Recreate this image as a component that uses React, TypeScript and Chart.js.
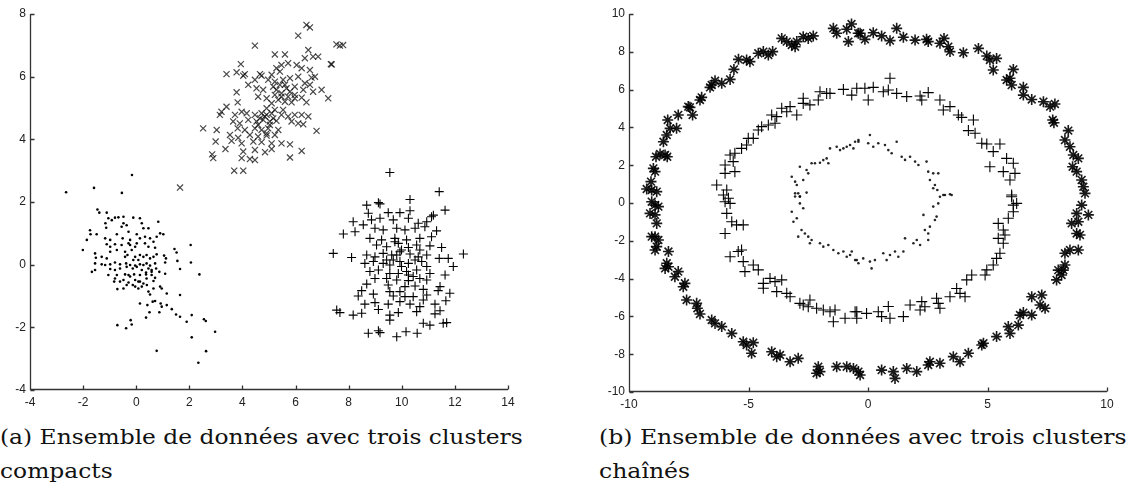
import React, { useEffect, useLayoutEffect, useRef, useState } from "react";
import { Chart, registerables } from "chart.js";
Chart.register(...registerables);

// ---------- tick labels ----------
const leftXTicks = [-4, -2, 0, 2, 4, 6, 8, 10, 12, 14];
const leftYTicks = [-4, -2, 0, 2, 4, 6, 8];
const rightXTicks = [-10, -5, 0, 5, 10];
const rightYTicks = [-10, -8, -6, -4, -2, 0, 2, 4, 6, 8, 10];

// ---------- (a) compact clusters ----------
const compactDots: [number, number][] = [
  [-2.64, 2.31], [-1.59, 2.45], [-0.54, 2.29], [-0.16, 2.86],
  [-1.46, 1.76], [-1.39, 1.66], [-1.11, 1.66], [-1.05, 1.48], [-0.92, 1.42], [-0.8, 1.5], [-0.67, 1.51], [-0.48, 1.53],
  [-1.16, 1.32], [-1.13, 1.18], [-0.48, 1.32], [-0.55, 1.21], [-0.11, 1.5], [0.14, 1.48], [0.21, 1.32], [0.27, 1.16], [0.46, 1.16], [0.83, 1.37],
  [-1.74, 1.1], [-1.72, 0.97], [-1.49, 0.97], [-1.86, 0.79], [-2.01, 0.47],
  [-1.17, 0.84], [-0.98, 0.79], [-0.73, 0.97], [-0.51, 0.84], [-0.29, 1.05], [-0.23, 0.79],
  [0.02, 0.97], [0.14, 0.84], [0.33, 0.89], [0.52, 0.84], [0.77, 0.89], [0.9, 1.0], [1.02, 0.97],
  [-1.11, 0.65], [-0.98, 0.57], [-0.8, 0.65], [-0.55, 0.63], [-0.23, 0.63], [0.02, 0.68],
  [0.33, 0.68], [0.46, 0.57], [0.65, 0.73], [0.71, 0.54],
  [-0.98, 0.41], [-0.73, 0.47], [-0.42, 0.41], [-0.17, 0.47],
  [-1.55, 0.36], [-1.52, 0.22], [-1.3, 0.25], [-1.11, 0.2],
  [-0.42, 0.25], [-0.33, 0.31], [-0.04, 0.25], [0.14, 0.31], [0.27, 0.25], [0.39, 0.31], [0.52, 0.2], [0.65, 0.25],
  [0.77, 0.33], [1.05, 0.29], [1.12, 0.2], [1.44, 0.5], [1.52, 0.39], [2.05, 0.63],
  [-1.55, 0.04], [-1.3, 0.01], [-1.17, -0.01], [-0.98, 0.01], [-0.8, 0.07], [-0.61, 0.01],
  [-0.38, 0.04], [-0.23, -0.01], [-0.04, -0.03], [0.14, 0.01], [0.39, 0.04], [0.52, -0.03], [0.71, 0.04],
  [1.09, 0.07], [1.55, 0.12], [2.06, 0.07],
  [-1.67, -0.23], [-1.55, -0.17], [-0.98, -0.14], [-0.8, -0.17], [-0.61, -0.12], [-0.36, -0.07], [-0.13, -0.12], [0.02, -0.07],
  [0.21, -0.17], [0.37, -0.25], [0.58, -0.17], [0.75, -0.12], [0.87, -0.23], [1.65, -0.14], [2.38, -0.31],
  [-1.05, -0.33], [-0.73, -0.33], [-0.42, -0.31], [-0.23, -0.38], [0.14, -0.33], [0.37, -0.31], [0.58, -0.33], [0.71, -0.42], [1.09, -0.29],
  [-0.83, -0.54], [-0.48, -0.49], [-0.29, -0.57], [-0.04, -0.49], [0.08, -0.54], [0.27, -0.6], [0.4, -0.65], [0.65, -0.52],
  [-0.71, -0.78], [-0.48, -0.76], [-0.04, -0.7], [0.08, -0.76], [0.21, -0.7], [0.65, -0.76], [0.9, -0.7], [0.96, -0.76],
  [0.46, -0.86], [0.52, -0.95], [1.15, -0.92], [1.65, -0.97],
  [0.14, -1.24], [0.42, -1.29], [0.62, -1.18], [0.71, -1.16], [0.92, -1.24], [0.96, -1.34],
  [1.15, -1.29], [1.34, -1.42], [1.5, -1.59], [1.65, -1.66], [1.9, -1.82], [2.09, -1.61],
  [0.5, -1.52], [0.37, -1.69], [0.87, -1.52],
  [-0.71, -1.93], [-0.38, -2.03], [-0.21, -1.77], [-0.17, -1.91],
  [2.55, -1.74], [2.62, -1.8], [2.97, -2.14], [2.09, -2.32], [0.77, -2.75], [2.63, -2.76], [2.34, -3.13],
  [-0.36, 1.26], [-0.29, 0.68], [-0.04, 0.57], [-0.11, 0.15], [0.08, 0.15], [0.27, -0.01], [0.46, -0.12], [0.58, -0.23],
  [0.39, -0.44], [0.14, -0.54], [-0.13, -0.65], [-0.36, -0.65], [-0.61, -0.54], [-0.8, -0.44], [-0.29, -0.33], [-0.08, -0.31],
];

const compactCrosses: [number, number][] = [
  [6.41, 7.65], [6.54, 7.57], [6.1, 7.31], [4.47, 6.99], [7.54, 7.03], [7.67, 6.99], [7.79, 7.01],
  [5.22, 6.71], [5.6, 6.71], [6.48, 6.85], [6.66, 6.64], [6.85, 6.64], [6.35, 6.59], [3.94, 6.4], [7.33, 6.4],
  [3.4, 6.08], [3.78, 6.14], [4.03, 6.03], [4.09, 6.08], [4.66, 6.08], [4.72, 6.03],
  [5.28, 6.27], [5.47, 6.37], [5.72, 6.43], [6.04, 6.37], [6.23, 6.27], [6.54, 6.21], [6.73, 6.0], [6.6, 5.97],
  [4.22, 5.74], [4.47, 5.9], [5.1, 6.06], [5.41, 6.16],
  [4.97, 5.9], [5.22, 5.84], [5.53, 5.9], [5.79, 5.95], [6.1, 6.0], [6.35, 5.79],
  [4.53, 5.63], [4.78, 5.58], [5.16, 5.68], [5.41, 5.74], [5.66, 5.63], [5.97, 5.68], [6.29, 5.58], [6.54, 5.74], [6.66, 5.52],
  [6.98, 5.58], [7.23, 5.31], [3.78, 5.5], [3.82, 5.18],
  [4.59, 5.36], [4.91, 5.31], [5.22, 5.42], [5.47, 5.47], [5.72, 5.36], [5.97, 5.42], [6.23, 5.33],
  [6.41, 5.18], [5.1, 5.15], [5.6, 5.2], [5.85, 5.18],
  [3.4, 5.04], [3.21, 4.88], [3.15, 4.78], [4.91, 4.99], [5.22, 4.94], [5.53, 4.94],
  [3.72, 4.78], [3.97, 4.88], [4.16, 4.83], [4.47, 4.78], [4.72, 4.83], [4.91, 4.78], [5.1, 4.83],
  [5.47, 4.78], [5.72, 4.73], [5.97, 4.78], [6.23, 4.78], [6.48, 4.73],
  [3.65, 4.57], [3.9, 4.51], [4.22, 4.62], [4.53, 4.57], [4.78, 4.62], [5.03, 4.57], [5.28, 4.59],
  [5.85, 4.57], [6.1, 4.51], [6.29, 4.48],
  [2.52, 4.35], [3.03, 4.3], [3.82, 4.35], [4.09, 4.3], [4.47, 4.35], [4.72, 4.3], [4.97, 4.35], [5.35, 4.3], [6.79, 4.27],
  [3.53, 4.14], [3.84, 4.05], [4.28, 4.14], [4.59, 4.09], [4.91, 4.12], [5.22, 4.14],
  [2.99, 3.93], [3.59, 3.95], [3.97, 3.87], [4.41, 3.93], [4.72, 3.91], [5.1, 3.87], [5.47, 3.87], [5.79, 3.84],
  [3.36, 3.69], [4.03, 3.61], [4.47, 3.66], [4.85, 3.59], [5.1, 3.69], [6.23, 3.63],
  [2.86, 3.52], [2.9, 3.4], [3.97, 3.4], [4.28, 3.37], [4.47, 3.34], [5.79, 3.42],
  [3.69, 3.0], [4.03, 3.0], [7.36, 6.39], [1.65, 2.46],
  [4.66, 4.67], [4.84, 4.73], [5.03, 4.46], [5.16, 4.67], [4.91, 4.19], [4.59, 4.46],
  [5.28, 5.58], [5.47, 5.36], [5.6, 5.74], [5.79, 5.52], [5.35, 5.26], [5.97, 5.31],
];

const compactPlus: [number, number][] = [
  [9.55, 2.94], [11.41, 2.33], [10.31, 2.08],
  [8.68, 1.9], [9.12, 1.98], [9.18, 1.94], [11.63, 1.74], [11.12, 1.53], [11.19, 1.58],
  [8.74, 1.64], [9.49, 1.66], [9.93, 1.66], [10.31, 1.72],
  [8.17, 1.37], [8.55, 1.27], [8.86, 1.43], [9.18, 1.48], [9.68, 1.43], [10.25, 1.48], [10.62, 1.32], [10.94, 1.37],
  [7.8, 0.98], [8.24, 1.05], [8.99, 1.16], [9.3, 1.11], [9.81, 1.16], [10.12, 1.11], [10.5, 1.16], [10.87, 1.21], [11.31, 1.08],
  [8.8, 0.84], [9.24, 0.79], [9.74, 0.84], [10.18, 0.79], [10.68, 0.84], [11.12, 0.89],
  [9.05, 0.63], [9.43, 0.57], [9.87, 0.68], [10.25, 0.55], [10.56, 0.63], [11.06, 0.6], [11.5, 0.55],
  [7.42, 0.36], [8.11, 0.23], [8.68, 0.31], [8.99, 0.25], [9.3, 0.36], [9.62, 0.31], [9.93, 0.41], [10.31, 0.34], [10.62, 0.25], [10.94, 0.31], [11.41, 0.2],
  [11.75, 0.2], [12.32, 0.34],
  [8.61, 0.04], [8.93, 0.1], [9.3, 0.04], [9.55, -0.01], [9.93, 0.1], [10.25, 0.04], [10.5, 0.15], [10.75, 0.1],
  [11.94, -0.06], [11.63, -0.33],
  [8.8, -0.22], [9.12, -0.17], [9.55, -0.28], [9.87, -0.28], [10.18, -0.22], [10.56, -0.17], [11.06, -0.28],
  [8.99, -0.44], [9.43, -0.44], [9.81, -0.49], [10.25, -0.51], [10.68, -0.44], [10.94, -0.49],
  [8.68, -0.62], [10.12, -0.7], [10.5, -0.68], [11.44, -0.7],
  [8.49, -0.83], [9.55, -0.86], [10.81, -0.79], [11.37, -0.83],
  [8.36, -1.0], [8.93, -0.94], [9.68, -1.0], [10.12, -1.02], [10.94, -0.97], [11.81, -0.91],
  [8.61, -1.26], [8.99, -1.21], [9.49, -1.26], [9.93, -1.18], [10.31, -1.26], [10.68, -1.34], [11.25, -1.26], [11.66, -1.15],
  [7.55, -1.45], [7.67, -1.53], [8.17, -1.61], [8.49, -1.55], [9.12, -1.43],
  [9.55, -1.61], [9.87, -1.53], [10.56, -1.5], [11.25, -1.57], [11.44, -1.47],
  [9.55, -1.77], [10.81, -1.87], [11.06, -1.93], [11.56, -1.87], [11.69, -1.85],
  [8.74, -2.19], [9.12, -2.11], [9.18, -2.17], [9.81, -2.3], [10.16, -2.14], [10.58, -2.19],
  [9.68, 0.15], [9.99, -0.06], [9.81, 0.31], [9.43, 0.15], [10.25, -0.33], [10.43, -0.38], [9.74, 0.73],
  [9.99, 0.47], [10.68, 0.47], [10.94, -0.06], [9.49, -0.65], [9.93, -0.86], [10.43, -1.02], [10.81, -1.13],
];

// ---------- (b) chained clusters ----------
const ringStars: [number, number][] = [
  [-9.26, 0.74], [-9.08, 1.13], [-8.98, 1.83], [-8.91, 1.66], [-8.87, 2.45], [-8.7, 2.59], [-8.49, 2.54], [-8.4, 2.45],
  [-8.56, 3.24], [-8.42, 3.6], [-8.28, 3.95], [-8.01, 3.95], [-8.38, 4.39],
  [-7.94, 4.66], [-7.52, 5.1], [-7.45, 5.06], [-7.34, 4.66], [-7.03, 5.45], [-6.96, 5.59],
  [-6.61, 6.12], [-6.54, 6.24], [-6.4, 6.47], [-6.12, 6.33], [-5.77, 6.54], [-5.61, 7.07], [-5.42, 7.6], [-5.08, 7.57], [-4.94, 7.48],
  [-4.59, 7.92], [-4.38, 8.01], [-4.17, 7.83], [-3.99, 8.01],
  [-3.61, 8.71], [-3.4, 8.54], [-3.19, 8.36], [-3.05, 8.27], [-2.98, 8.54],
  [-2.71, 8.8], [-2.5, 8.71], [-2.29, 8.84],
  [-1.45, 9.24], [-1.31, 8.98], [-0.89, 9.19], [-0.69, 9.47], [-0.82, 8.54], [-0.41, 8.98],
  [-0.33, 8.98], [-0.13, 8.66], [0.22, 9.01], [0.57, 8.84], [0.92, 8.59], [1.2, 9.24], [1.48, 8.77], [1.97, 8.62],
  [2.45, 8.66], [2.52, 8.54], [3.01, 8.45], [3.18, 8.71], [3.36, 8.27], [3.43, 8.01], [3.99, 7.95], [4.62, 8.18],
  [4.97, 7.78], [5.1, 7.57], [5.24, 7.04], [5.38, 7.65], [5.8, 6.51], [5.94, 6.6], [6.08, 7.07], [6.01, 6.24],
  [6.5, 6.12], [6.5, 5.71], [6.85, 5.48], [7.34, 5.36], [7.62, 5.1], [7.82, 5.24], [7.73, 4.39], [7.78, 4.25],
  [8.38, 3.83], [8.24, 3.33], [8.45, 2.98], [8.59, 2.54], [8.8, 2.36], [8.56, 1.92], [8.73, 1.66], [8.94, 1.22],
  [9.01, 0.86], [9.08, 0.51],
  [-9.05, 0.69], [-8.84, 0.6], [-9.05, 0.07], [-8.91, -0.11], [-8.77, -0.19], [-9.12, -0.55], [-8.91, -0.63], [-8.84, -1.08],
  [-9.05, -1.78], [-8.91, -1.78], [-8.77, -1.96], [-8.84, -2.31], [-8.91, -2.49], [-8.35, -2.57], [-8.42, -3.19], [-8.35, -3.37],
  [-8.49, -3.46], [-7.94, -3.63], [-8.08, -3.9], [-7.66, -4.25], [-7.73, -4.43], [-7.59, -5.13], [-7.17, -5.31], [-7.14, -5.57],
  [-7.03, -5.87], [-6.54, -6.19], [-6.4, -6.37], [-6.12, -6.54], [-5.7, -6.9], [-5.22, -7.34], [-5.08, -7.51], [-4.8, -7.39],
  [-4.87, -7.95], [-4.03, -7.87], [-3.82, -8.13], [-3.68, -8.04], [-3.26, -8.4], [-2.92, -8.22], [-2.08, -8.66], [-2.01, -8.92],
  [-2.15, -9.01], [-1.31, -8.66], [-0.89, -8.66], [-0.61, -8.75], [-0.4, -8.92],
  [-0.33, -9.1], [0.57, -8.84], [1.06, -8.92], [1.13, -9.28], [1.62, -8.75], [2.04, -8.92], [2.52, -8.57], [2.59, -8.4],
  [3.01, -8.48], [3.57, -8.13], [3.85, -8.4], [4.2, -7.95], [4.76, -7.51], [4.83, -7.42], [5.38, -7.07], [5.94, -6.9],
  [5.87, -6.54], [6.29, -6.46], [6.36, -5.93], [6.5, -5.8], [6.85, -5.93], [6.85, -4.96], [7.27, -4.87], [7.2, -5.4],
  [7.41, -5.57], [7.89, -4.07], [7.96, -3.55], [8.1, -3.81], [8.17, -3.55], [8.24, -3.28], [8.24, -2.66], [8.45, -2.49],
  [8.8, -2.49], [8.87, -1.69], [8.73, -1.61], [8.52, -1.08], [8.8, -0.99], [9.22, -0.63], [8.73, -0.55], [8.94, -0.11],
];

const ringPlus: [number, number][] = [
  [-6.33, 0.95], [-5.98, 1.57], [-5.91, 0.69], [-5.84, 0.25], [-5.98, 2.01], [-5.57, 1.66], [-5.64, 2.19], [-5.77, 2.54], [-5.57, 2.63],
  [-5.29, 2.89], [-5.08, 3.07], [-5.01, 3.42], [-4.8, 3.42], [-4.59, 3.86], [-4.45, 4.04], [-4.17, 4.13], [-4.03, 4.66],
  [-3.82, 4.57], [-3.89, 4.22], [-3.61, 5.01], [-3.4, 4.83], [-3.26, 5.1], [-2.98, 4.66],
  [-2.71, 5.54], [-2.71, 5.27], [-2.43, 5.19], [-2.08, 5.45], [-2.01, 5.89], [-1.73, 5.8], [-1.59, 5.8],
  [-1.03, 6.01], [-0.68, 5.71], [-0.47, 6.07],
  [-0.13, 6.07], [0.01, 5.45], [0.22, 6.12], [0.64, 5.89], [0.92, 6.6], [0.85, 5.98], [1.2, 5.8], [1.62, 5.63],
  [2.18, 5.66], [2.25, 5.45], [2.52, 5.84], [3.01, 5.45], [3.15, 4.92], [3.43, 5.1], [3.78, 4.66], [3.92, 4.53],
  [4.41, 4.39], [4.2, 3.83], [4.48, 3.69], [4.76, 3.16], [4.97, 3.12], [5.24, 2.72], [5.52, 3.12], [5.1, 1.92],
  [5.8, 2.36], [6.08, 2.1], [5.66, 1.66], [5.94, 1.22], [6.15, 1.57], [6.01, 0.33],
  [-6.05, 0.42], [-5.98, 0.07], [-5.77, -0.02], [-5.91, -0.55], [-5.7, -0.99], [-5.5, -1.16], [-5.22, -1.16], [-5.98, -1.61],
  [-5.77, -2.84], [-5.43, -2.57], [-5.29, -2.49], [-5.22, -3.1], [-5.15, -3.63], [-4.8, -3.28], [-4.59, -3.54],
  [-4.38, -4.25], [-4.38, -4.51], [-4.1, -3.99], [-3.89, -4.16], [-3.61, -4.07], [-3.82, -4.69], [-3.4, -4.78], [-3.26, -4.96],
  [-2.85, -5.31], [-2.71, -5.4], [-2.43, -5.13], [-2.5, -5.49], [-2.15, -5.57], [-1.87, -5.66], [-1.59, -5.75], [-1.45, -6.28],
  [-1.38, -5.66], [-0.96, -6.1], [-0.47, -5.75], [-0.47, -6.1],
  [-0.54, -5.75], [-0.06, -5.84], [0.43, -5.75], [0.57, -6.01], [0.85, -5.48], [0.92, -6.1], [1.48, -6.01], [1.76, -5.4],
  [2.18, -5.66], [2.25, -5.22], [2.38, -5.49], [2.87, -5.04], [2.94, -5.31], [3.01, -5.57], [3.43, -4.96], [3.71, -4.52],
  [3.85, -4.78], [4.06, -4.96], [4.13, -4.07], [4.34, -3.81], [4.9, -3.81], [4.97, -3.54], [5.24, -3.28], [5.38, -2.93],
  [5.52, -2.66], [5.45, -1.08], [5.66, -1.43], [5.73, -1.69], [5.45, -1.87], [5.66, -2.13], [5.87, -0.81], [6.08, -0.11],
  [6.22, -0.02], [6.01, 0.42], [6.08, -0.46],
];

const ringDots: [number, number][] = [
  [-3.19, 1.39], [-3.05, 1.13], [-2.98, 0.95], [-2.71, 1.22], [-2.85, 1.92], [-2.57, 1.75], [-2.5, 1.57], [-2.36, 2.1],
  [-2.22, 2.1], [-2.01, 2.13], [-1.87, 2.27], [-1.73, 2.36], [-1.66, 2.1],
  [-1.59, 2.89], [-1.31, 2.98], [-1.17, 2.8], [-1.03, 2.89], [-0.89, 2.98], [-0.75, 3.07], [-0.54, 3.24], [-0.4, 3.33],
  [-2.92, 0.51], [-2.85, 0.34], [-3.05, 0.34], [-2.57, 0.55],
  [-0.61, 2.89], [-0.4, 3.24], [0.01, 3.16], [0.08, 3.6], [0.22, 2.98], [0.43, 3.16], [0.71, 3.07], [0.85, 2.8],
  [0.99, 2.63], [1.2, 3.24], [1.41, 2.45], [1.55, 2.28], [1.76, 2.45], [1.97, 2.19], [2.11, 2.01], [2.45, 2.19],
  [2.52, 1.66], [2.73, 1.57], [2.94, 1.57], [2.59, 1.22], [2.8, 0.95], [2.9, 0.69], [2.73, 0.78], [3.15, 0.42], [3.43, 0.46],
  [-3.19, -0.46], [-3.12, -0.99], [-2.98, -0.81], [-2.85, -0.02], [-2.71, -0.28], [-2.78, -1.43], [-2.64, -1.61], [-2.5, -1.78],
  [-2.43, -2.13], [-2.36, -1.96], [-2.01, -2.13], [-1.87, -2.31], [-1.66, -2.22], [-1.45, -2.49], [-1.24, -2.66], [-1.03, -2.57],
  [-0.89, -2.84], [-0.75, -2.75], [-0.54, -3.02], [-0.4, -3.19], [-2.92, -1.78], [-3.05, 0.51], [-2.85, 0.34],
  [-0.68, -2.57], [-0.47, -3.02], [-0.2, -2.93], [0.08, -3.1], [0.15, -3.46], [0.29, -3.02], [0.64, -2.66], [0.78, -3.02],
  [0.92, -2.75], [1.13, -2.57], [1.27, -2.84], [1.48, -2.57], [1.55, -1.87], [1.9, -2.13], [2.04, -1.96], [2.18, -2.22],
  [2.52, -1.96], [2.38, -1.43], [2.59, -1.25], [2.52, -1.61], [2.32, -0.63], [2.8, -0.9], [2.87, -0.72], [2.73, -0.19],
  [2.94, -0.02], [3.01, 0.33], [3.22, 0.42], [3.5, 0.42],
];

// ---------- captions ----------
const captionA = ["(a) Ensemble de données avec trois clusters", "compacts"];
const captionB = ["(b) Ensemble de données avec trois clusters", "chaînés"];

const toXY = (pts: [number, number][]) => pts.map(([x, y]) => ({ x, y }));

const axesPlugin = {
  id: "matlabAxes",
  afterDatasetsDraw(chart: any) {
    const { ctx, chartArea: a, scales } = chart;
    const xs = scales.x;
    const ys = scales.y;
    const L = Math.round(a.left) + 0.5;
    const B = Math.round(a.bottom) - 0.5;
    ctx.save();
    ctx.strokeStyle = "#333";
    ctx.lineWidth = 1.3;
    ctx.beginPath();
    ctx.moveTo(L, a.top);
    ctx.lineTo(L, B);
    ctx.lineTo(a.right, B);
    for (const t of xs.ticks) {
      const px = Math.round(xs.getPixelForValue(t.value)) + 0.5;
      ctx.moveTo(px, B);
      ctx.lineTo(px, B - 4);
    }
    for (const t of ys.ticks) {
      const py = Math.round(ys.getPixelForValue(t.value)) + 0.5;
      ctx.moveTo(L, py);
      ctx.lineTo(L + 4, py);
    }
    ctx.stroke();
    ctx.restore();
  },
};

type PanelProps = {
  left: number;
  width: number;
  height: number;
  datasets: any[];
  xMin: number;
  xMax: number;
  yMin: number;
  yMax: number;
  xTicks: number[];
  yTicks: number[];
  axisW: number;
  axisH: number;
  padTop: number;
  padRight: number;
};

function Panel(p: PanelProps) {
  const ref = useRef<HTMLCanvasElement>(null);
  useEffect(() => {
    const tickFont = { family: '"Liberation Sans", Arial, sans-serif', size: 12 };
    const chart = new Chart(ref.current as HTMLCanvasElement, {
      type: "scatter",
      data: { datasets: p.datasets },
      options: {
        responsive: false,
        animation: false,
        events: [],
        layout: { padding: { top: p.padTop, right: p.padRight, left: 0, bottom: 0 } },
        plugins: { legend: { display: false }, tooltip: { enabled: false } },
        scales: {
          x: {
            type: "linear",
            min: p.xMin,
            max: p.xMax,
            afterBuildTicks: (s: any) => {
              s.ticks = p.xTicks.map((v) => ({ value: v }));
            },
            afterFit: (s: any) => {
              s.height = p.axisH;
            },
            grid: { display: false, drawTicks: false },
            border: { display: false },
            ticks: {
              autoSkip: false,
              maxRotation: 0,
              padding: 5,
              font: tickFont,
              color: "#222",
              callback: (v: any) => String(v),
            },
          },
          y: {
            type: "linear",
            min: p.yMin,
            max: p.yMax,
            afterBuildTicks: (s: any) => {
              s.ticks = p.yTicks.map((v) => ({ value: v }));
            },
            afterFit: (s: any) => {
              s.width = p.axisW;
            },
            grid: { display: false, drawTicks: false },
            border: { display: false },
            ticks: {
              autoSkip: false,
              padding: 4,
              font: tickFont,
              color: "#222",
              callback: (v: any) => String(v),
            },
          },
        },
      },
      plugins: [axesPlugin],
    } as any);
    return () => chart.destroy();
  }, []);
  return (
    <canvas
      ref={ref}
      width={p.width}
      height={p.height}
      style={{ position: "absolute", left: p.left, top: 0, width: p.width, height: p.height }}
    />
  );
}

function Caption({ left, lines, target }: { left: number; lines: string[]; target: number }) {
  const ref = useRef<HTMLSpanElement>(null);
  const [scale, setScale] = useState(1);
  useLayoutEffect(() => {
    const w = ref.current ? ref.current.offsetWidth : 0;
    if (w > 0) setScale(target / w);
  }, []);
  return (
    <div
      style={{
        position: "absolute",
        left,
        top: 420,
        fontFamily: '"DejaVu Serif", serif',
        fontSize: 21,
        lineHeight: "34px",
        color: "#111",
        whiteSpace: "nowrap",
        transformOrigin: "0 0",
        transform: `scaleX(${scale})`,
      }}
    >
      <span ref={ref}>{lines[0]}</span>
      <br />
      <span>{lines[1]}</span>
    </div>
  );
}

export default function App() {
  const leftSets = [
    {
      data: toXY(compactDots),
      pointStyle: "circle",
      pointRadius: 1.3,
      backgroundColor: "#000",
      borderWidth: 0,
    },
    {
      data: toXY(compactCrosses),
      pointStyle: "crossRot",
      pointRadius: 4.3,
      borderColor: "rgba(0,0,0,0.72)",
      borderWidth: 1.2,
    },
    {
      data: toXY(compactPlus),
      pointStyle: "cross",
      pointRadius: 4.5,
      borderColor: "#000",
      borderWidth: 1.1,
    },
  ];
  const rightSets = [
    {
      data: toXY(ringStars),
      pointStyle: "star",
      pointRadius: 5.5,
      borderColor: "rgba(0,0,0,0.9)",
      borderWidth: 1.6,
    },
    {
      data: toXY(ringPlus),
      pointStyle: "cross",
      pointRadius: 5.5,
      borderColor: "#000",
      borderWidth: 1.1,
    },
    {
      data: toXY(ringDots),
      pointStyle: "circle",
      pointRadius: 1.3,
      backgroundColor: "rgba(0,0,0,0.85)",
      borderWidth: 0,
    },
  ];
  return (
    <div
      style={{
        position: "fixed",
        left: 0,
        top: 0,
        width: 1128,
        height: 494,
        background: "#fff",
        overflow: "hidden",
      }}
    >
      <Panel
        left={0}
        width={540}
        height={420}
        datasets={leftSets}
        xMin={-4}
        xMax={14}
        yMin={-4}
        yMax={8}
        xTicks={leftXTicks}
        yTicks={leftYTicks}
        axisW={30}
        axisH={30}
        padTop={14}
        padRight={32}
      />
      <Panel
        left={560}
        width={568}
        height={420}
        datasets={rightSets}
        xMin={-10}
        xMax={10}
        yMin={-10}
        yMax={10}
        xTicks={rightXTicks}
        yTicks={rightYTicks}
        axisW={69}
        axisH={28}
        padTop={14}
        padRight={21}
      />
      <Caption left={0} lines={captionA} target={523} />
      <Caption left={599} lines={captionB} target={528} />
    </div>
  );
}
